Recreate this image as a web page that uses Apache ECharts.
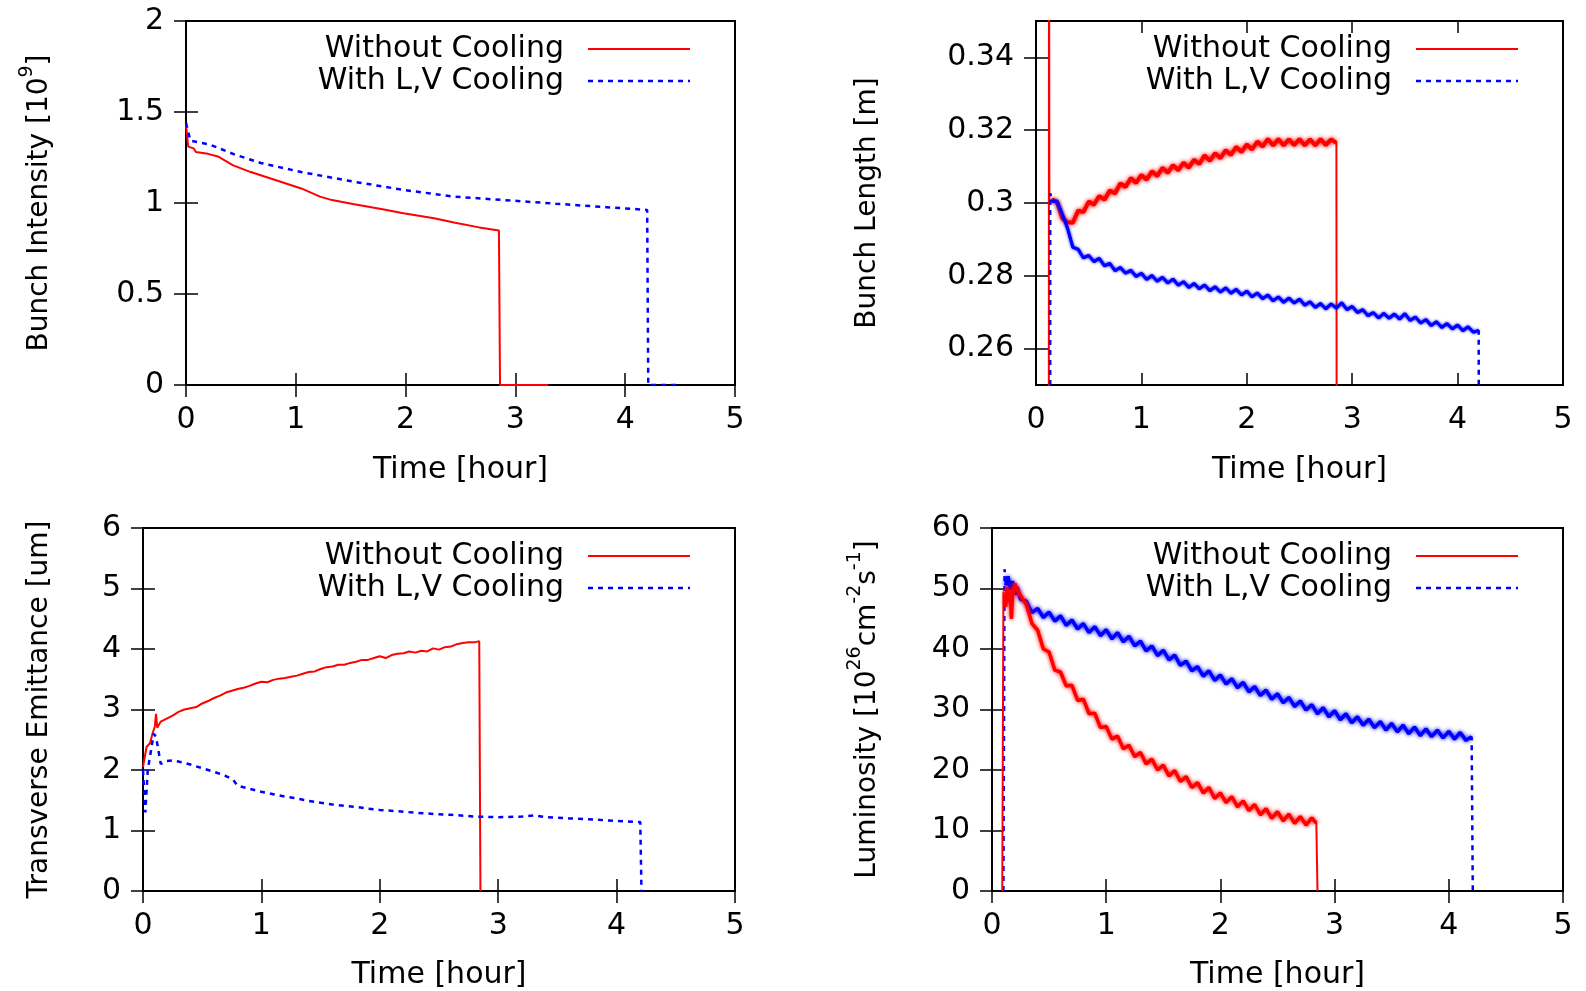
<!DOCTYPE html>
<html>
<head>
<meta charset="utf-8">
<script src="https://cdn.jsdelivr.net/npm/echarts@6/dist/echarts.min.js"></script>
<style>
html,body{margin:0;padding:0;background:#fff;}
#chart{width:1586px;height:991px;}
</style>
</head>
<body>
<div id="chart"></div>
<script>
// ---------- data (time [hour], value) ----------
const seriesNames = ['Without Cooling', 'With L,V Cooling'];
const xTicks = [0, 1, 2, 3, 4, 5];
const lengthTicks = [0.26, 0.28, 0.30, 0.32, 0.34];

const intensityRed = [[0,1.43],[0.02,1.31],[0.07,1.30],[0.09,1.28],[0.2,1.27],[0.29,1.256],[0.43,1.207],[0.59,1.17],[0.82,1.125],[1.05,1.08],[1.22,1.035],[1.33,1.016],[1.52,0.995],[1.79,0.966],[1.98,0.944],[2.26,0.916],[2.44,0.893],[2.67,0.866],[2.85,0.849],[2.86,0],[3.3,0]];
const intensityBlue = [[0,1.44],[0.04,1.343],[0.22,1.32],[0.45,1.265],[0.68,1.22],[1.05,1.17],[1.52,1.118],[1.98,1.072],[2.44,1.035],[2.9,1.016],[3.37,0.996],[3.83,0.977],[4.2,0.962],[4.21,0],[4.5,0]];

const lengthRed = [[0.12,0],[0.123,0.40],[0.127,0.300],[0.15,0.3010],[0.20,0.3003],[0.25,0.2958],[0.30,0.2947],[0.35,0.2946],[0.40,0.2979],[0.45,0.2975],[0.50,0.3004],[0.55,0.2995],[0.60,0.3019],[0.65,0.3009],[0.70,0.3034],[0.75,0.3026],[0.80,0.3054],[0.85,0.3044],[0.90,0.3069],[0.95,0.3055],[1.00,0.3077],[1.05,0.3064],[1.10,0.3087],[1.15,0.3074],[1.20,0.3097],[1.25,0.3083],[1.30,0.3104],[1.35,0.3090],[1.40,0.3111],[1.45,0.3097],[1.50,0.3119],[1.55,0.3107],[1.60,0.3131],[1.65,0.3116],[1.70,0.3137],[1.75,0.3123],[1.80,0.3145],[1.85,0.3132],[1.90,0.3154],[1.95,0.3140],[2.00,0.3161],[2.05,0.3147],[2.10,0.3169],[2.15,0.3155],[2.20,0.3176],[2.25,0.3158],[2.30,0.3176],[2.35,0.3158],[2.40,0.3175],[2.45,0.3159],[2.50,0.3176],[2.55,0.3158],[2.60,0.3175],[2.65,0.3158],[2.70,0.3176],[2.75,0.3159],[2.80,0.3175],[2.85,0.3165],[2.86,0]];
const lengthBlue = [[0.134,0],[0.135,0.3027],[0.15,0.3005],[0.20,0.3004],[0.25,0.2969],[0.30,0.2930],[0.35,0.2878],[0.40,0.2873],[0.45,0.2849],[0.50,0.2856],[0.55,0.2839],[0.60,0.2848],[0.65,0.2827],[0.70,0.2834],[0.75,0.2814],[0.80,0.2823],[0.85,0.2807],[0.90,0.2815],[0.95,0.2798],[1.00,0.2807],[1.05,0.2790],[1.10,0.2801],[1.15,0.2785],[1.20,0.2796],[1.25,0.2780],[1.30,0.2791],[1.35,0.2774],[1.40,0.2784],[1.45,0.2768],[1.50,0.2779],[1.55,0.2764],[1.60,0.2775],[1.65,0.2759],[1.70,0.2770],[1.75,0.2755],[1.80,0.2767],[1.85,0.2752],[1.90,0.2763],[1.95,0.2747],[2.00,0.2758],[2.05,0.2742],[2.10,0.2753],[2.15,0.2737],[2.20,0.2747],[2.25,0.2731],[2.30,0.2742],[2.35,0.2727],[2.40,0.2739],[2.45,0.2725],[2.50,0.2736],[2.55,0.2719],[2.60,0.2729],[2.65,0.2713],[2.70,0.2724],[2.75,0.2709],[2.80,0.2723],[2.85,0.2711],[2.90,0.2726],[2.95,0.2707],[3.00,0.2716],[3.05,0.2699],[3.10,0.2707],[3.15,0.2690],[3.20,0.2699],[3.25,0.2684],[3.30,0.2697],[3.35,0.2683],[3.40,0.2695],[3.45,0.2681],[3.50,0.2696],[3.55,0.2677],[3.60,0.2687],[3.65,0.2670],[3.70,0.2680],[3.75,0.2663],[3.80,0.2674],[3.85,0.2658],[3.90,0.2669],[3.95,0.2654],[4.00,0.2665],[4.05,0.2649],[4.10,0.2660],[4.15,0.2645],[4.20,0.2650],[4.21,0]];

const emittanceRed = [[0,2.05],[0.03,2.38],[0.06,2.45],[0.08,2.60],[0.10,2.72],[0.11,2.93],[0.12,2.70],[0.15,2.80],[0.20,2.85],[0.25,2.90],[0.30,2.96],[0.35,3.00],[0.40,3.02],[0.45,3.04],[0.50,3.10],[0.55,3.14],[0.60,3.19],[0.65,3.23],[0.70,3.28],[0.75,3.31],[0.80,3.34],[0.85,3.36],[0.90,3.39],[0.95,3.43],[1.00,3.46],[1.05,3.45],[1.10,3.49],[1.15,3.51],[1.20,3.52],[1.25,3.54],[1.30,3.56],[1.35,3.59],[1.40,3.62],[1.45,3.63],[1.50,3.67],[1.55,3.70],[1.60,3.71],[1.65,3.74],[1.70,3.74],[1.75,3.77],[1.80,3.79],[1.85,3.82],[1.90,3.82],[1.95,3.85],[2.00,3.88],[2.05,3.85],[2.10,3.90],[2.15,3.92],[2.20,3.93],[2.25,3.96],[2.30,3.94],[2.35,3.97],[2.40,3.96],[2.45,4.01],[2.50,3.99],[2.55,4.03],[2.60,4.04],[2.65,4.08],[2.70,4.10],[2.75,4.11],[2.80,4.11],[2.84,4.13],[2.85,0]];
const emittanceBlue = [[0,2.00],[0.02,1.30],[0.04,2.00],[0.07,2.35],[0.09,2.60],[0.11,2.55],[0.15,2.10],[0.20,2.15],[0.25,2.16],[0.30,2.14],[0.40,2.09],[0.50,2.03],[0.60,1.97],[0.70,1.90],[0.76,1.84],[0.80,1.74],[0.90,1.69],[1.00,1.64],[1.10,1.60],[1.20,1.56],[1.30,1.53],[1.40,1.49],[1.50,1.46],[1.60,1.43],[1.70,1.41],[1.80,1.39],[1.90,1.36],[2.00,1.34],[2.20,1.31],[2.40,1.28],[2.60,1.26],[2.80,1.23],[3.00,1.22],[3.20,1.23],[3.30,1.25],[3.40,1.22],[3.60,1.20],[3.80,1.18],[4.00,1.16],[4.20,1.14],[4.21,0]];

const luminosityRed = [[0.09,0],[0.10,49.5],[0.12,47.0],[0.13,50.2],[0.15,47.8],[0.16,49.6],[0.17,45.0],[0.18,49.0],[0.20,50.8],[0.22,49.8],[0.25,48.8],[0.30,47.4],[0.35,44.2],[0.40,43.1],[0.45,40.0],[0.50,39.5],[0.55,36.5],[0.60,36.2],[0.65,33.9],[0.70,34.0],[0.75,31.5],[0.80,31.7],[0.85,29.3],[0.90,29.4],[0.95,27.0],[1.00,27.2],[1.05,25.1],[1.10,25.6],[1.15,23.5],[1.20,24.1],[1.25,22.2],[1.30,22.9],[1.35,21.0],[1.40,21.8],[1.45,20.0],[1.50,20.8],[1.55,19.0],[1.60,19.9],[1.65,18.1],[1.70,18.9],[1.75,17.1],[1.80,17.9],[1.85,16.2],[1.90,17.1],[1.95,15.3],[2.00,16.2],[2.05,14.6],[2.10,15.6],[2.15,13.9],[2.20,14.9],[2.25,13.3],[2.30,14.3],[2.35,12.6],[2.40,13.6],[2.45,12.0],[2.50,13.1],[2.55,11.6],[2.60,12.7],[2.65,11.2],[2.70,12.3],[2.75,10.9],[2.80,12.1],[2.84,11.2],[2.85,0]];
const luminosityBlue = [[0.10,0],[0.11,53.2],[0.12,50.5],[0.14,52.0],[0.16,49.8],[0.18,51.2],[0.20,49.0],[0.22,50.2],[0.25,48.2],[0.30,47.9],[0.35,46.0],[0.40,46.7],[0.45,45.2],[0.50,46.1],[0.55,44.6],[0.60,45.5],[0.65,43.9],[0.70,44.8],[0.75,43.3],[0.80,44.2],[0.85,42.7],[0.90,43.7],[0.95,42.2],[1.00,43.2],[1.05,41.7],[1.10,42.7],[1.15,41.2],[1.20,42.1],[1.25,40.5],[1.30,41.3],[1.35,39.7],[1.40,40.5],[1.45,38.9],[1.50,39.8],[1.55,38.2],[1.60,39.0],[1.65,37.3],[1.70,38.0],[1.75,36.4],[1.80,37.1],[1.85,35.5],[1.90,36.4],[1.95,34.8],[2.00,35.7],[2.05,34.2],[2.10,35.1],[2.15,33.6],[2.20,34.5],[2.25,32.9],[2.30,33.8],[2.35,32.3],[2.40,33.2],[2.45,31.7],[2.50,32.6],[2.55,31.1],[2.60,32.0],[2.65,30.5],[2.70,31.4],[2.75,29.9],[2.80,30.8],[2.85,29.3],[2.90,30.3],[2.95,28.8],[3.00,29.8],[3.05,28.3],[3.10,29.3],[3.15,27.8],[3.20,28.8],[3.25,27.4],[3.30,28.4],[3.35,27.0],[3.40,28.0],[3.45,26.6],[3.50,27.7],[3.55,26.3],[3.60,27.4],[3.65,26.0],[3.70,27.1],[3.75,25.7],[3.80,26.8],[3.85,25.5],[3.90,26.6],[3.95,25.3],[4.00,26.4],[4.05,25.1],[4.10,26.2],[4.15,24.9],[4.20,25.5],[4.21,0]];

// ---------- layout / style ----------
const FONT = '"DejaVu Sans", "Liberation Sans", sans-serif';
const RED = '#ff0000', BLUE = '#0000ff';
const grids = [
  {left:186, top:21, width:549, height:364},
  {left:1036, top:21, width:527, height:364},
  {left:143, top:528, width:592, height:366},
  {left:992, top:528, width:571, height:366}
];
const yNameGaps = [124, 146, 81, 102];
const xNameGaps = [70, 70, 69, 69];
const supRich = {sup:{fontSize:19, fontFamily:FONT, color:'#000', verticalAlign:'top', lineHeight:16}};
const yNames = [
  'Bunch Intensity [10{sup|9}]',
  'Bunch Length [m]',
  'Transverse Emittance [um]',
  'Luminosity [10{sup|26}cm{sup|-2}s{sup|-1}]'
];
const yRanges = [
  {min:0, max:2, interval:0.5},
  {min:0.25, max:0.35, custom:lengthTicks},
  {min:0, max:6, interval:1},
  {min:0, max:60, interval:10}
];

const tickStyle = {inside:true, length:12, lineStyle:{color:'#000', width:1.5}};
const xAxis = [], yAxis = [];
grids.forEach((g, i) => {
  xAxis.push({
    gridIndex:i, type:'value', min:xTicks[0], max:xTicks[xTicks.length-1], interval:1, position:'bottom',
    name:'Time [hour]', nameLocation:'middle', nameGap:xNameGaps[i],
    nameTextStyle:{fontSize:30, fontFamily:FONT, color:'#000'},
    axisLine:{show:false}, axisTick:tickStyle, splitLine:{show:false},
    axisLabel:{fontSize:30, fontFamily:FONT, color:'#000', margin:20}
  });
  xAxis.push({
    gridIndex:i, type:'value', min:xTicks[0], max:xTicks[xTicks.length-1], interval:1, position:'top',
    axisLine:{show:false}, axisTick:tickStyle, splitLine:{show:false}, axisLabel:{show:false}
  });
  const r = yRanges[i];
  const base = {gridIndex:i, type:'value', min:r.min, max:r.max, splitLine:{show:false}, axisLine:{show:false}};
  if (r.interval) base.interval = r.interval;
  const tick = Object.assign({}, tickStyle);
  if (r.custom) tick.customValues = r.custom;
  const lab = {fontSize:30, fontFamily:FONT, color:'#000', margin:22};
  if (r.custom) lab.customValues = r.custom;
  yAxis.push(Object.assign({}, base, {
    position:'left', axisTick:tick, axisLabel:lab,
    name:yNames[i], nameLocation:'middle', nameRotate:90, nameGap:yNameGaps[i],
    nameTextStyle:{fontSize:28, fontFamily:FONT, color:'#000', lineHeight:44, rich:supRich}
  }));
  yAxis.push(Object.assign({}, base, {
    position:'right', axisTick:tick, axisLabel:{show:false}
  }));
});

function line(name, data, gi, color, dashed, width, z, glow) {
  const ls = {color, width:width||2, type:dashed ? [5,5] : 'solid'};
  if (glow) { ls.shadowColor = color; ls.shadowBlur = glow; }
  return {
    name, type:'line', xAxisIndex:gi*2, yAxisIndex:gi*2, data,
    showSymbol:false, symbol:'none', clip:true, animation:false, z:z||2,
    lineStyle:ls
  };
}

const series = [
  line(seriesNames[0], intensityRed, 0, RED, false, 2),
  line(seriesNames[1], intensityBlue, 0, BLUE, true, 2.5),
  line(seriesNames[0], lengthRed, 1, RED, false, 2),
  line(seriesNames[0], lengthRed.slice(3, -1), 1, RED, false, 4, 2, 4),
  line(seriesNames[1], lengthBlue, 1, BLUE, true, 2.5, 3),
  line(seriesNames[1], lengthBlue.slice(2, -1), 1, BLUE, false, 3, 3, 3),
  line(seriesNames[0], emittanceRed, 2, RED, false, 2),
  line(seriesNames[1], emittanceBlue, 2, BLUE, true, 2.5),
  line(seriesNames[0], luminosityRed, 3, RED, false, 2, 3),
  line(seriesNames[0], luminosityRed.slice(2, -1), 3, RED, false, 3.5, 3, 4),
  line(seriesNames[1], luminosityBlue, 3, BLUE, true, 2.5),
  line(seriesNames[1], luminosityBlue.slice(2, -1), 3, BLUE, false, 3.5, 2, 4)
];

// legend (gnuplot-style key, top-right inside each panel)
const graphic = [];
grids.forEach(g => {
  const right = g.left + g.width;
  [0, 1].forEach(k => {
    const y = g.top + 28 + k * 32;
    graphic.push({type:'text', x:right - 171, y:y, z:10,
      style:{text:seriesNames[k], font:'30px ' + FONT, fill:'#000', align:'right', verticalAlign:'middle'}});
    graphic.push({type:'line', z:10,
      shape:{x1:right - 147, y1:y, x2:right - 45, y2:y},
      style:{stroke:k ? BLUE : RED, lineWidth:k ? 2.5 : 2, lineDash:k ? [5,5] : null}});
  });
});

const chart = echarts.init(document.getElementById('chart'), null, {renderer:'canvas'});
chart.setOption({
  animation:false,
  backgroundColor:'#fff',
  grid:grids.map(g => Object.assign({show:true, borderColor:'#000', borderWidth:2, backgroundColor:'transparent', containLabel:false}, g)),
  xAxis, yAxis, series, graphic
});
</script>
</body>
</html>
